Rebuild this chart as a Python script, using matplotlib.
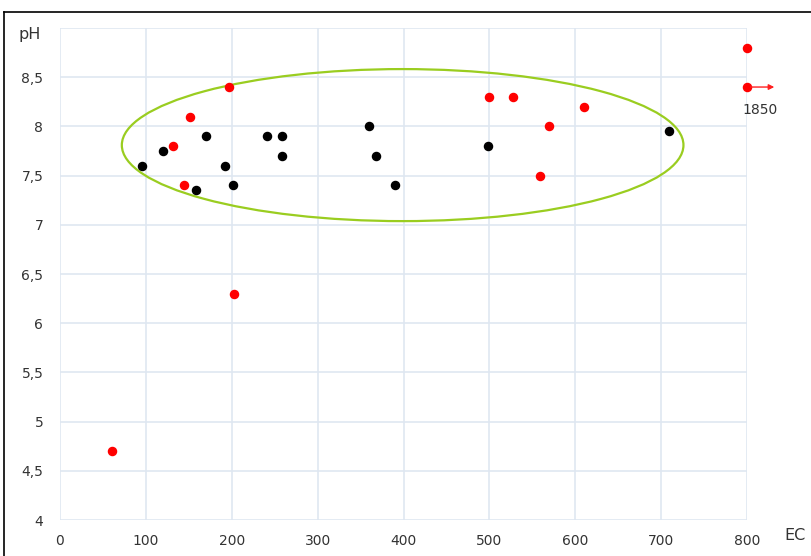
import matplotlib
matplotlib.use('Agg')
import matplotlib.pyplot as plt
from matplotlib.patches import Ellipse
from matplotlib.lines import Line2D

plt.rcParams['font.family'] = ['DejaVu Sans']

# black samples
ec_black = [95, 120, 170, 192, 158, 202, 241, 258, 258, 360, 368, 390, 498, 709]
ph_black = [7.6, 7.75, 7.9, 7.6, 7.35, 7.4, 7.9, 7.9, 7.7, 8.0, 7.7, 7.4, 7.8, 7.95]

# red samples
ec_red = [60, 132, 151, 144, 197, 203, 500, 527, 570, 610, 559, 800, 800]
ph_red = [4.7, 7.8, 8.1, 7.4, 8.4, 6.3, 8.3, 8.3, 8.0, 8.2, 7.5, 8.8, 8.4]

x_ticks = [0, 100, 200, 300, 400, 500, 600, 700, 800]
y_ticks = [4, 4.5, 5, 5.5, 6, 6.5, 7, 7.5, 8, 8.5]
y_labels = ['4', '4,5', '5', '5,5', '6', '6,5', '7', '7,5', '8', '8,5']

fig = plt.figure(figsize=(8.12, 5.56), dpi=100)
ax = fig.add_axes([60 / 812, 1 - 520 / 556, 687 / 812, 492 / 556])

grid_col = '#dfe7f1'
txt_col = '#333333'
ax.set_xlim(0, 800)
ax.set_ylim(4, 9)
ax.set_xticks(x_ticks)
ax.set_yticks(y_ticks + [9])
ax.set_yticklabels(y_labels + [''])
ax.grid(True, color=grid_col, linewidth=1.2)
ax.set_axisbelow(True)
for s in ['top', 'bottom', 'right', 'left']:
    ax.spines[s].set_visible(False)
ax.tick_params(length=0, labelsize=10, colors=txt_col)
ax.tick_params(axis='x', pad=10)
ax.tick_params(axis='y', pad=12)

# ellipse round the main cluster
ax.add_patch(Ellipse((399, 7.81), 654, 1.545, fill=False, edgecolor='#9acd20', linewidth=1.6))

ax.scatter(ec_black, ph_black, s=34, color='black', zorder=3)
ax.scatter(ec_red, ph_red, s=34, color='#ff0000', zorder=3, clip_on=False)

# off-scale sample
ax.annotate('', xy=(835, 8.4), xytext=(801, 8.4),
            arrowprops=dict(arrowstyle='-|>', color='#ff2020', lw=1, mutation_scale=8),
            annotation_clip=False)
ax.text(815, 8.17, '1850', ha='center', va='center', fontsize=10, color=txt_col, clip_on=False)

fig.text(30 / 812, 1 - 35 / 556, 'pH', ha='center', va='center', fontsize=11.5, color=txt_col)
fig.text(795 / 812, 1 - 535 / 556, 'EC', ha='center', va='center', fontsize=11.5, color=txt_col)

# outer frame lines
fig.add_artist(Line2D([4 / 812, 1], [1 - 12 / 556, 1 - 12 / 556], color='black', lw=1.2))
fig.add_artist(Line2D([4 / 812, 4 / 812], [0, 1 - 12 / 556], color='black', lw=1.2))

fig.savefig('out.png', dpi=100)
